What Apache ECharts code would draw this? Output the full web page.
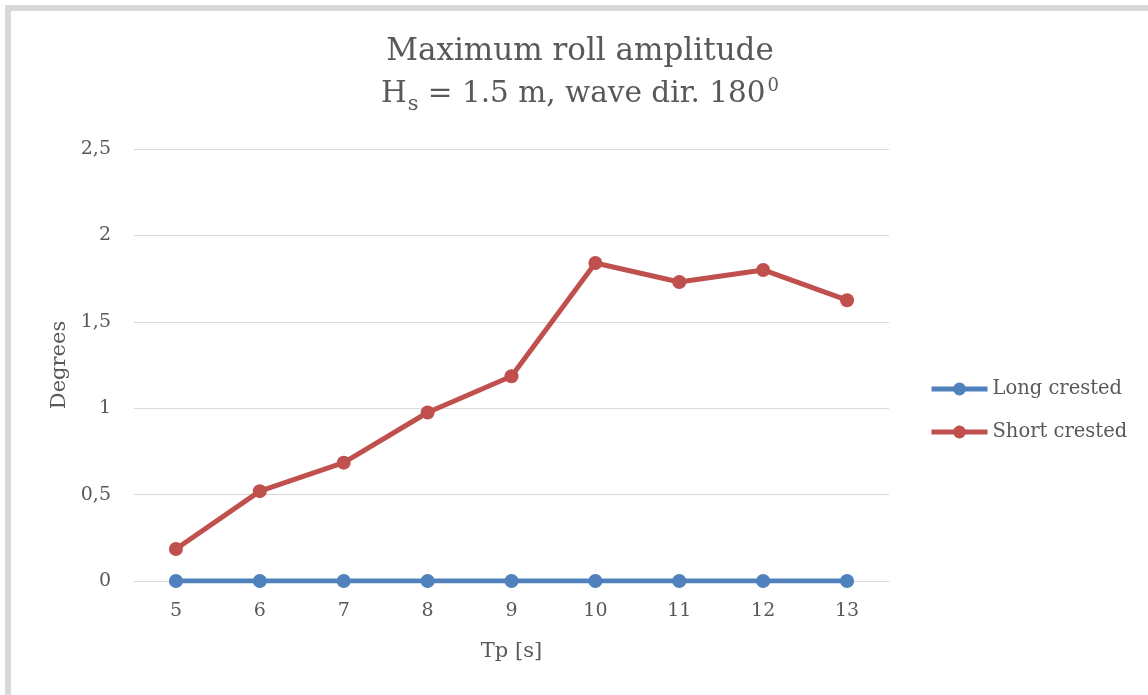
<!DOCTYPE html>
<html>
<head>
<meta charset="utf-8">
<script src="https://cdn.jsdelivr.net/npm/echarts@6/dist/echarts.min.js"></script>
<style>
  html, body { margin: 0; padding: 0; background: #ffffff; }
  #chart { width: 1148px; height: 695px; }
</style>
</head>
<body>
<div id="chart"></div>
<script>
// Peak wave period Tp [s]
const periods = ['5', '6', '7', '8', '9', '10', '11', '12', '13'];
// Maximum roll amplitude in degrees
const longCrested = [0, 0, 0, 0, 0, 0, 0, 0, 0];
const shortCrested = [0.185, 0.52, 0.685, 0.975, 1.185, 1.84, 1.73, 1.80, 1.625];
const seriesNames = ['Long crested', 'Short crested'];

const FONT = 'DejaVu Serif';
const TEXT = '#595959';

const chart = echarts.init(document.getElementById('chart'));
chart.setOption({
  backgroundColor: '#ffffff',
  animation: false,
  graphic: [{
    type: 'rect',
    shape: { x: 8, y: 8, width: 1300, height: 900 },
    style: { fill: 'none', stroke: '#d9d9d9', lineWidth: 6 },
    silent: true
  }],
  title: {
    left: 580,
    textAlign: 'center',
    top: 31,
    padding: 0,
    // second line: subscript s and superscript 0 shifted with asymmetric padding
    text: '{t|Maximum roll amplitude}\n{u|H}{sub|s}{u| = 1.5 m, wave dir. 180}{sup|0}',
    textStyle: {
      fontWeight: 'normal',
      rich: {
        t: { fontFamily: FONT, fontSize: 31, fontWeight: 'normal', color: TEXT, lineHeight: 42.5 },
        u: { fontFamily: FONT, fontSize: 29.5, fontWeight: 'normal', color: TEXT, lineHeight: 42.5 },
        sub: { fontFamily: FONT, fontSize: 21, fontWeight: 'normal', color: TEXT, lineHeight: 42.5, padding: [19, 0, 0, 1] },
        sup: { fontFamily: FONT, fontSize: 18, fontWeight: 'normal', color: TEXT, lineHeight: 42.5, padding: [0, 0, 16, 2] }
      }
    }
  },
  legend: {
    orient: 'vertical',
    left: 929,
    top: 379,
    padding: 0,
    itemWidth: 56,
    itemHeight: 16,
    itemGap: 23,
    lineStyle: { width: 5 },
    textStyle: { fontFamily: FONT, fontSize: 19.5, color: TEXT },
    data: seriesNames
  },
  grid: { left: 134, right: 259, top: 149, bottom: 114, containLabel: false },
  xAxis: {
    type: 'category',
    data: periods,
    boundaryGap: true,
    name: 'Tp [s]',
    nameLocation: 'middle',
    nameGap: 60,
    nameTextStyle: { fontFamily: FONT, fontSize: 21, color: TEXT },
    axisLine: { lineStyle: { color: '#d9d9d9', width: 1 } },
    axisTick: { show: false },
    axisLabel: { fontFamily: FONT, fontSize: 19, color: TEXT, margin: 21 },
    splitLine: { show: false }
  },
  yAxis: {
    type: 'value',
    min: 0,
    max: 2.5,
    interval: 0.5,
    name: 'Degrees',
    nameLocation: 'middle',
    nameGap: 64,
    nameTextStyle: { fontFamily: FONT, fontSize: 21, color: TEXT },
    axisLine: { show: false },
    axisTick: { show: false },
    axisLabel: {
      fontFamily: FONT, fontSize: 19, color: TEXT, margin: 23,
      formatter: v => String(v).replace('.', ',')
    },
    splitLine: { lineStyle: { color: '#d9d9d9', width: 1 } }
  },
  series: [
    {
      name: seriesNames[0],
      type: 'line',
      data: longCrested,
      symbol: 'circle',
      symbolSize: 14,
      lineStyle: { width: 5, color: '#4f81bd' },
      itemStyle: { color: '#4f81bd' },
      z: 3
    },
    {
      name: seriesNames[1],
      type: 'line',
      data: shortCrested,
      symbol: 'circle',
      symbolSize: 14,
      lineStyle: { width: 5, color: '#c0504d' },
      itemStyle: { color: '#c0504d' },
      z: 4
    }
  ]
});
</script>
</body>
</html>
